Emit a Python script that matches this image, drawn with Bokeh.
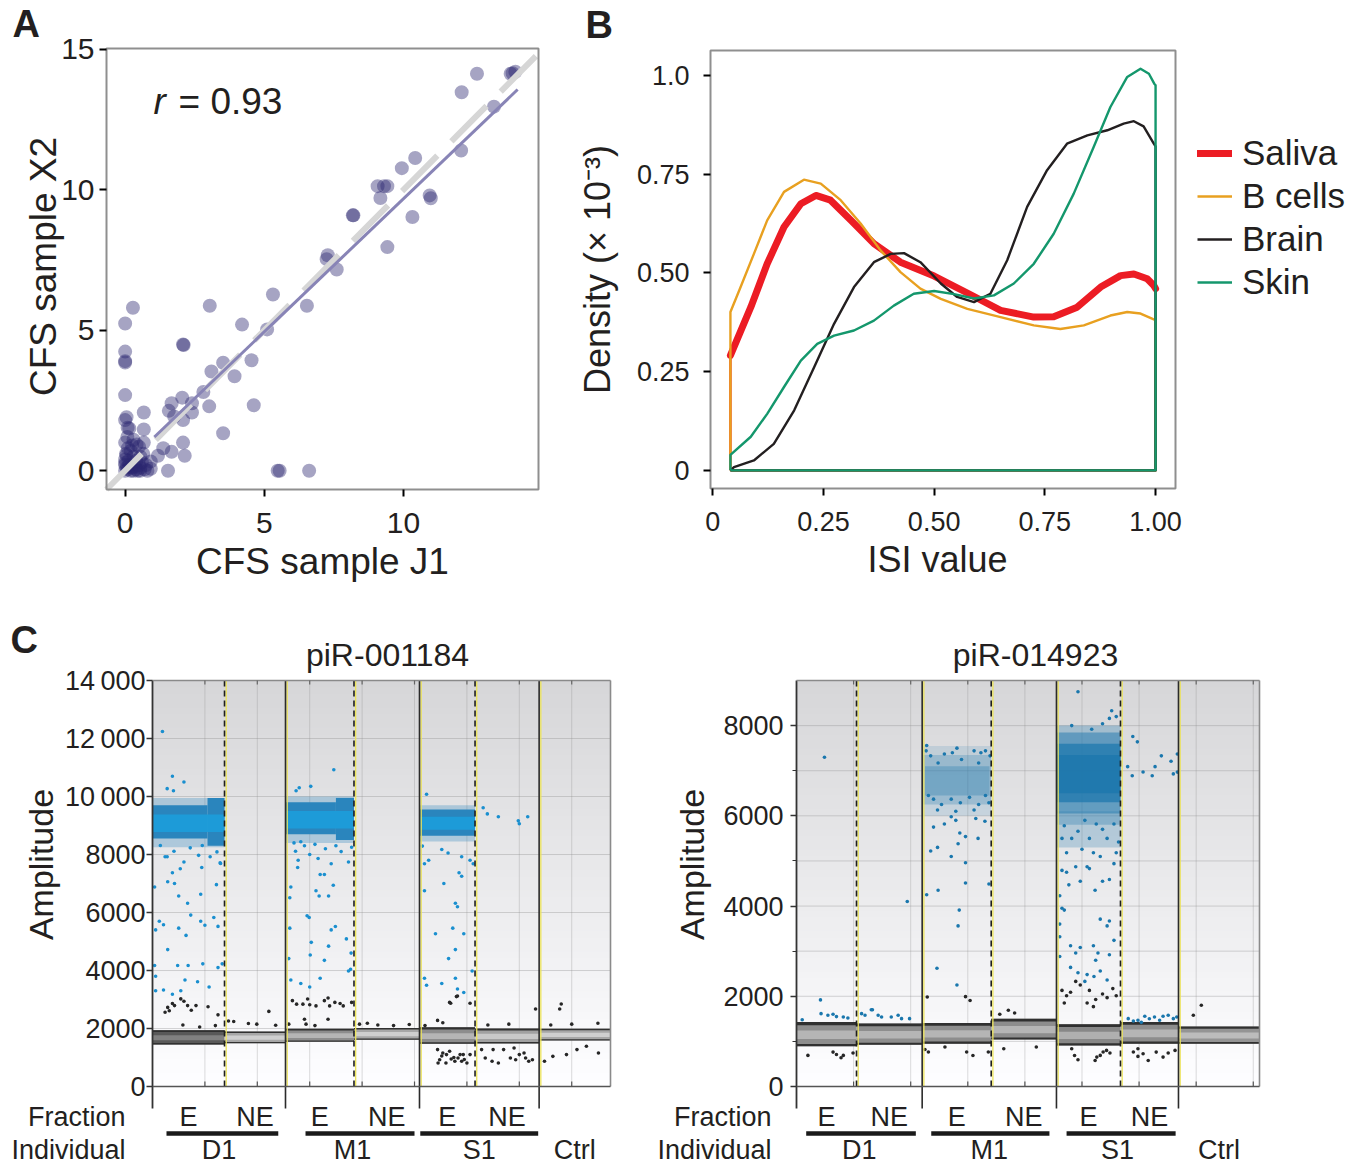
import numpy as np
from bokeh.plotting import figure
from bokeh.models import FixedTicker, Legend, LegendItem, LinearAxis
from bokeh.layouts import row, column
from bokeh.embed import file_html
from bokeh.resources import INLINE
from bokeh.core.properties import value

FONT = "Liberation Sans"
TXT = "#231f20"

# ---------------- Panel A : CFS sample J1 vs X2 ----------------
a_j1 = [0.28, 0.00, 0.00, 0.00, 0.00, 0.00, 0.00, 0.09, 0.67, 0.67,
        0.67, 0.41, 0.03, 0.00, 0.22, 0.54, 0.80, 0.92, 0.92, 1.18,
        1.37, 1.54, 1.67, 1.67, 1.57, 1.76, 2.08, 2.08, 2.14, 2.05,
        2.08, 2.10, 2.40, 2.40, 2.81, 3.02, 3.04, 3.10, 3.52, 3.52,
        3.93, 4.20, 4.54, 4.62, 5.10, 5.31, 5.48, 5.55, 6.61, 6.53,
        7.24, 7.28, 7.60, 8.18, 8.20, 9.07, 9.30, 9.42, 9.17, 9.42,
        9.94, 10.32, 10.42, 10.94, 10.98, 12.07, 12.09, 12.64, 13.25, 13.85,
        13.92, 14.02,
        0.00, 0.05, 0.10, 0.15, 0.20, 0.25, 0.30, 0.35, 0.40, 0.45,
        0.50, 0.55, 0.60, 0.70, 0.00, 0.05, 0.10, 0.00, 0.08, 0.20,
        0.30, 0.40, 0.25, 0.55, 0.65, 0.75, 0.15, 0.30, 0.05, 0.50,
        0.00, 0.12]
a_x2 = [5.80, 5.24, 4.24, 3.90, 3.85, 2.69, 1.80, 1.53, 2.07, 1.47,
        1.00, 0.93, 0.60, 0.27, 0.13, 0.00, 0.00, 0.07, 0.33, 0.53,
        0.80, 0.00, 0.67, 2.40, 2.13, 1.93, 1.80, 1.00, 0.53, 2.60,
        4.49, 4.47, 2.40, 2.07, 2.80, 2.29, 5.87, 3.53, 3.84, 1.33,
        3.36, 5.20, 3.93, 2.33, 5.03, 6.27, 0.00, 0.00, 0.00, 5.87,
        7.53, 7.67, 7.16, 9.09, 9.09, 10.13, 10.13, 10.13, 9.71, 7.96,
        10.77, 9.03, 11.13, 9.80, 9.70, 11.40, 13.47, 14.13, 12.96, 14.13,
        14.15, 14.20,
        0.00, 0.10, 0.05, 0.20, 0.00, 0.10, 0.00, 0.15, 0.05, 0.00,
        0.20, 0.10, 0.30, 0.05, 0.40, 0.55, 0.80, 1.00, 1.20, 0.70,
        0.50, 0.35, 0.90, 0.50, 0.60, 0.20, 1.50, 1.10, 1.90, 0.85,
        0.20, 0.35]
fit_j1 = [1.05, 14.10]
fit_x2 = [1.20, 13.57]
a_xlim = [-0.67, 14.85]
a_ylim = [-0.67, 15.03]
a_ticks_x = [0, 5, 10]
a_ticks_y = [0, 5, 10, 15]
r_value = "0.93"

# ---------------- Panel B : ISI density ----------------
sal_x = [0.04, 0.086, 0.123, 0.161, 0.199, 0.233, 0.266, 0.312, 0.364, 0.424, 0.50,
         0.575, 0.65, 0.725, 0.77, 0.823, 0.876, 0.921, 0.951, 0.981, 0.996, 1.0]
sal_d = [0.291, 0.413, 0.523, 0.616, 0.675, 0.696, 0.684, 0.633, 0.574, 0.527, 0.492,
         0.449, 0.405, 0.388, 0.389, 0.413, 0.464, 0.493, 0.497, 0.485, 0.468, 0.46]
bc_x = [0.04, 0.063, 0.093, 0.123, 0.161, 0.206, 0.244, 0.289, 0.334, 0.379, 0.424, 0.469,
        0.515, 0.575, 0.65, 0.725, 0.785, 0.838, 0.898, 0.936, 0.966, 0.992, 1.0]
bc_d = [0.401, 0.464, 0.548, 0.633, 0.705, 0.736, 0.726, 0.684, 0.625, 0.557, 0.502, 0.46,
        0.434, 0.409, 0.388, 0.367, 0.358, 0.367, 0.392, 0.401, 0.397, 0.384, 0.38]
br_x = [0.04, 0.048, 0.093, 0.138, 0.184, 0.229, 0.274, 0.319, 0.364, 0.402, 0.432, 0.469,
        0.515, 0.552, 0.590, 0.627, 0.665, 0.710, 0.755, 0.80, 0.846, 0.891, 0.928, 0.951,
        0.973, 0.996, 1.0]
br_d = [0.0, 0.008, 0.025, 0.067, 0.152, 0.261, 0.371, 0.464, 0.527, 0.548, 0.550, 0.527,
        0.473, 0.439, 0.426, 0.447, 0.532, 0.667, 0.76, 0.827, 0.848, 0.861, 0.878, 0.884,
        0.871, 0.827, 0.82]
sk_x = [0.04, 0.086, 0.123, 0.161, 0.199, 0.236, 0.274, 0.319, 0.364, 0.409, 0.454, 0.50,
        0.545, 0.59, 0.635, 0.68, 0.725, 0.77, 0.815, 0.86, 0.898, 0.936, 0.966, 0.985,
        0.997, 1.0]
sk_d = [0.039, 0.085, 0.143, 0.211, 0.278, 0.32, 0.341, 0.354, 0.379, 0.417, 0.447, 0.454,
        0.446, 0.435, 0.443, 0.473, 0.523, 0.599, 0.70, 0.818, 0.92, 0.996, 1.017, 1.004,
        0.979, 0.975]
b_names = ["Saliva", "B cells", "Brain", "Skin"]
b_colors = ["#ec1c24", "#e8a020", "#231f20", "#14976c"]
b_xlim = [-0.005, 1.045]
b_ylim = [-0.046, 1.063]
b_ticks = [0, 0.25, 0.5, 0.75, 1.0]
b_xlabels = {0: "0", 0.25: "0.25", 0.5: "0.50", 0.75: "0.75", 1.0: "1.00"}
b_ylabels = {0: "0", 0.25: "0.25", 0.5: "0.50", 0.75: "0.75", 1.0: "1.0"}

# ---------------- Panel C : droplet amplitudes ----------------
c_wells = ["E", "NE", "E", "NE", "E", "NE", ""]
c_indiv = ["D1", "D1", "M1", "M1", "S1", "S1", "Ctrl"]

c1_edges = [0, 1.374, 2.538, 3.845, 5.095, 6.155, 7.378, 8.74]
c1_neg_lo = [1450, 1490, 1540, 1610, 1470, 1480, 1590]
c1_neg_hi = [1940, 1900, 1990, 2020, 2040, 2000, 1990]
c1_neg_shade = [0.85, 0.25, 0.45, 0.25, 0.45, 0.3, 0.25]
c1_cl_x0 = [0.0, 2.538, 5.095, 0.0, 1.05, 2.538, 3.50, 5.095, 0.0, 2.538, 5.095]
c1_cl_x1 = [1.374, 3.845, 6.155, 1.05, 1.374, 3.50, 3.845, 6.155, 1.374, 3.845, 6.155]
c1_cl_lo = [8250, 8400, 8450, 8550, 8300, 8700, 8500, 8650, 8780, 8900, 8850]
c1_cl_hi = [9950, 10000, 9700, 9700, 9950, 9800, 9950, 9550, 9380, 9500, 9300]
c1_cl_color = ["#2a85bd"] * 8 + ["#1c9cd9"] * 3
c1_cl_alpha = [0.3] * 3 + [1.0] * 5 + [0.95] * 3
c1_blue_x = [0.19, 0.38, 0.60, 0.28, 0.40, 0.24, 0.38, 0.94, 1.29, 1.22,
             0.04, 0.29, 0.42, 0.50, 0.67, 0.92, 0.73, 0.92, 1.00, 1.17,
             1.25, 0.13, 0.21, 0.06, 0.50, 0.64, 0.29, 0.96, 0.48, 0.68,
             0.04, 0.06, 0.62, 1.08, 1.25, 1.33, 0.21, 0.38, 0.54, 0.86,
             0.06, 0.15, 0.41, 0.72, 0.95, 0.28, 0.60, 0.88, 1.10, 1.23,
             1.30, 0.53,
             3.46, 2.74, 2.80, 3.02, 2.83, 2.73, 2.78, 2.77, 3.20, 3.28,
             3.41, 3.16, 3.74, 3.45, 3.36, 3.18, 3.12, 2.64, 2.62, 2.95,
             2.99, 3.49, 3.41, 2.62, 3.03, 3.70, 3.79, 3.36, 3.01, 3.28,
             3.78, 2.64, 3.20, 2.83, 3.00, 3.74, 2.60, 2.70, 2.90, 3.10,
             3.30, 3.50, 3.60, 3.80, 3.00,
             5.23, 6.31, 6.39, 6.60, 7.00, 7.16, 6.98, 5.15, 5.27, 5.52,
             5.64, 5.90, 6.06, 6.12, 5.19, 5.85, 5.90, 5.19, 5.56, 5.78,
             5.82, 5.40, 5.73, 5.94, 5.78, 5.65, 5.78, 5.82, 5.94, 5.23,
             5.52, 6.10, 5.19]
c1_blue_y = [12240, 10700, 10500, 10270, 10200, 7920, 7370, 7550, 7710, 6960,
             6880, 7060, 7000, 6570, 6320, 6630, 5910, 5700, 5560, 5830,
             5520, 5700, 5580, 5400, 5460, 5210, 4720, 4230, 4170, 4170,
             4170, 3800, 3670, 3430, 4100, 4230, 3330, 3180, 3300, 3610,
             3300, 8310, 8110, 8230, 8310, 7920, 7740, 7970, 7920, 8090,
             7690, 7510,
             10920, 10200, 10300, 10350, 8440, 8110, 7800, 7550, 7310, 7310,
             7680, 7860, 7740, 6940, 6570, 6570, 6750, 6880, 6510, 5890,
             5830, 5520, 5400, 5460, 4970, 5090, 4600, 4840, 4535, 4350,
             4040, 3670, 3730, 3550, 3430, 3980, 4410, 8400, 8300, 8350,
             8200, 8300, 8100, 8250, 8000,
             10080, 9610, 9400, 9300, 9060, 9300, 9160, 8290, 7800, 8170,
             8050, 7920, 7800, 7680, 7680, 7370, 7250, 6750, 7000, 6320,
             6200, 5270, 5460, 5270, 4720, 4410, 3730, 3360, 3240, 3490,
             3550, 3980, 3730]
c1_black_x = [0.29, 0.38, 0.54, 0.60, 0.42, 0.67, 0.74, 0.83, 1.06, 1.25,
              0.32, 0.24, 0.58, 0.90, 1.20,
              2.22, 1.45, 1.55, 1.83, 1.99, 2.35,
              2.67, 2.75, 2.87, 2.96, 3.00, 3.12, 3.28, 3.35, 3.38, 3.48,
              3.58, 3.64, 3.80, 2.90, 2.93, 3.35, 2.60, 3.10,
              3.95, 4.30, 4.60, 4.90, 4.10,
              5.67, 5.80, 5.44, 5.54, 5.82, 5.69, 6.06, 5.20, 7.31, 6.40, 6.80,
              5.44, 5.54, 5.61, 5.48, 5.45, 5.60, 5.77, 5.83, 5.93, 5.90,
              6.00, 5.87, 6.06, 6.35, 6.48, 6.60, 6.70, 6.83, 6.93, 7.00,
              7.12, 7.18, 7.25, 7.09, 6.90, 6.50, 6.28, 5.67, 5.70, 5.75,
              5.95, 5.52,
              7.48, 7.64, 7.90, 8.10, 8.28, 8.51, 7.80, 7.77, 8.00, 8.50, 7.60]
c1_black_y = [2727, 2860, 3020, 2940, 2790, 2790, 2630, 2790, 2750, 2470,
              2610, 2560, 2120, 2050, 2100,
              2590, 2260, 2240, 2170, 2150, 2110,
              2960, 2840, 2840, 3020, 2820, 2780, 2960, 3050, 2780, 2900,
              2860, 2780, 2900, 2320, 2150, 2320, 2150, 2100,
              2150, 2120, 2100, 2140, 2180,
              2900, 3100, 2280, 2200, 3120, 2870, 2870, 2100, 2670, 2120, 2150,
              1272, 1156, 1100, 925, 810, 810, 870, 985, 1100, 870,
              810, 1100, 1100, 985, 870, 810, 1272, 985, 925, 1100,
              985, 870, 925, 1156, 1330, 1272, 1272, 1215, 950, 1000,
              930, 1050,
              870, 1040, 1100, 1272, 1390, 1156, 2845, 2670, 2150, 2180, 2120]
c1_bar_x0 = [0.267, 2.92, 5.11]
c1_bar_x1 = [2.40, 5.00, 7.36]

c2_edges = [0, 1.051, 2.201, 3.410, 4.553, 5.674, 6.690, 8.109]
c2_neg_lo = [890, 925, 950, 1040, 910, 950, 950]
c2_neg_hi = [1430, 1395, 1405, 1500, 1380, 1430, 1330]
c2_neg_shade = [0.45, 0.45, 0.45, 0.45, 0.5, 0.45, 0.4]
c2_cl_x0 = [2.201, 2.201, 2.25, 4.553, 4.553, 4.553, 4.553, 4.553]
c2_cl_x1 = [3.410, 3.410, 3.38, 5.674, 5.674, 5.674, 5.674, 5.674]
c2_cl_lo = [6000, 6250, 6450, 5300, 5800, 6050, 6300, 6500]
c2_cl_hi = [7550, 7350, 7100, 6100, 8000, 7850, 7600, 7350]
c2_cl_color = ["#1f78ad"] * 8
c2_cl_alpha = [0.15, 0.25, 0.3, 0.25, 0.3, 0.5, 0.75, 0.9]
c2_blue_x = [0.43, 0.55, 0.64, 0.70, 0.82, 0.90, 1.14, 1.20, 1.33, 1.43,
             1.49, 1.66, 1.78, 1.84, 1.98, 0.42, 0.49, 1.94, 1.31, 0.10,
             2.28, 2.27, 2.46, 2.81, 2.83, 2.85, 2.48, 2.28, 2.96, 2.96,
             3.37, 2.35, 2.47, 2.71, 2.83, 2.86, 3.18, 3.30, 2.59, 2.79,
             2.96, 2.40, 2.71, 3.14,
             2.35, 2.48, 2.59, 2.81, 3.11, 3.23, 3.31, 3.19, 3.39, 2.89,
             2.73, 2.31, 2.40, 2.54, 2.71, 2.87, 3.03, 3.19, 3.31, 3.37,
             2.47, 2.79, 3.11,
             4.93, 5.52, 5.48, 5.60, 5.36, 4.82, 5.17, 5.89, 5.97, 5.80,
             5.88, 6.07, 6.23, 6.39, 6.28, 6.56, 6.60, 6.67, 6.67,
             4.65, 4.73, 4.77, 4.89, 4.97, 5.09, 5.13, 5.23, 5.36, 5.48,
             5.56, 4.61, 4.65, 4.69, 4.61, 5.32, 5.44, 5.48, 5.56, 4.61,
             4.80, 4.89, 4.97, 5.20, 5.28, 5.24, 5.48, 4.61, 4.80, 4.93,
             5.09, 5.21, 5.05, 5.44, 5.32,
             4.69, 4.82, 4.93, 5.05, 5.13, 5.25, 5.36, 5.44, 5.56, 5.64,
             4.73, 5.00, 5.20, 5.32, 5.60, 4.65,
             5.81, 5.90, 5.98, 6.10, 6.18, 6.27, 6.36, 6.42, 6.51, 6.60,
             6.66, 6.04]
c2_blue_y = [1615, 1578, 1600, 1550, 1540, 1520, 1615, 1578, 1703, 1578,
             1540, 1541, 1578, 1504, 1504, 1920, 7300, 4100, 1700, 1480,
             7560, 7440, 2620, 2250, 3560, 3910, 4350, 4250, 4510, 4960,
             4490, 5220, 5300, 5100, 5380, 5620, 5500, 5880, 5820, 5900,
             5540, 5750, 5980, 5940,
             7330, 7170, 7370, 7500, 7440, 7400, 7440, 7170, 7330, 7250,
             7400, 6450, 6370, 6250, 6370, 6290, 6410, 6250, 6450, 6290,
             6130, 6100, 6130,
             8750, 8330, 8160, 8200, 8040, 8000, 7920, 7760, 7640, 7090,
             6890, 6970, 6890, 7330, 7090, 7210, 6930, 7370, 6970,
             4790, 4750, 4470, 4870, 4550, 4870, 4830, 4350, 4550, 4590,
             4940, 4230, 3950, 3910, 3600, 3710, 3560, 3670, 3240, 3320,
             3120, 2960, 3080, 3120, 2960, 2800, 2920, 2880, 2640, 2520,
             2480, 2440, 2330, 2360, 2560,
             5780, 5500, 5660, 5900, 5500, 5820, 5700, 5500, 5820, 5420,
             5180, 5260, 5180, 5100, 5180, 5500,
             1504, 1452, 1467, 1556, 1500, 1541, 1467, 1556, 1578, 1504,
             1541, 1422]
c2_black_x = [0.20, 0.64, 0.70, 0.78, 0.82, 0.99, 2.31, 2.60, 2.98, 3.09,
              3.36, 3.56, 3.71, 3.82, 2.29, 2.96, 3.04, 3.63, 4.20, 2.25,
              4.87, 4.93, 5.23, 5.26, 5.32, 5.37, 5.49, 5.43, 4.82, 5.90,
              5.98, 6.07, 6.16, 6.30, 6.42, 6.51, 6.63, 5.98,
              4.65, 4.73, 4.80, 4.89, 4.97, 5.13, 5.24, 5.36, 5.44, 5.54,
              5.60, 5.20, 5.09, 4.69, 6.95, 7.09]
c2_black_y = [689, 763, 711, 637, 689, 741, 763, 874, 763, 689,
              763, 1600, 1690, 1630, 1984, 1992, 1905, 837, 874, 820,
              689, 593, 578, 652, 689, 763, 741, 800, 837, 763,
              667, 726, 578, 763, 652, 741, 800, 837,
              2130, 2010, 2090, 2330, 2250, 2130, 1930, 2050, 1970, 2170,
              2010, 1770, 1850, 1850, 1578, 1800]
c2_bar_x0 = [0.17, 2.36, 4.73]
c2_bar_x1 = [2.09, 4.43, 6.64]

for a, b in [(a_j1, a_x2), (sal_x, sal_d), (bc_x, bc_d), (br_x, br_d), (sk_x, sk_d),
             (c1_blue_x, c1_blue_y), (c1_black_x, c1_black_y),
             (c2_blue_x, c2_blue_y), (c2_black_x, c2_black_y)]:
    assert len(a) == len(b), (len(a), len(b))


class Canvas:
    """A figure whose frame fills the whole canvas; the data box sits at a pixel box."""

    def __init__(self, W, H, box, xlim, ylim):
        fl, fr, ft, fb = box
        self.xpp = (xlim[1] - xlim[0]) / (fr - fl)
        self.ypp = (ylim[1] - ylim[0]) / (fb - ft)
        self.x0 = xlim[0] - fl * self.xpp
        self.y1 = ylim[1] + ft * self.ypp
        xr = (self.x0, xlim[1] + (W - fr) * self.xpp)
        yr = (ylim[0] - (H - fb) * self.ypp, self.y1)
        self.p = figure(width=W, height=H, x_range=xr, y_range=yr,
                        x_axis_location=None, y_axis_location=None,
                        min_border=0, min_border_left=0, min_border_right=0,
                        min_border_top=0, min_border_bottom=0,
                        output_backend="svg", toolbar_location=None)
        self.p.grid.visible = False
        self.p.outline_line_color = None
        self.xlim, self.ylim = xlim, ylim

    def X(self, px):
        return self.x0 + px * self.xpp

    def Y(self, py):
        return self.y1 - py * self.ypp

    def axis(self, side, ticks, size, label_center_px, tick_w=2, tick_out=7, minor=None):
        if side == "below":
            c = self.X(label_center_px)
            bounds = (self.xlim[0], 2 * c - self.xlim[0])
            loc = self.ylim[0]
        else:
            c = self.Y(label_center_px)
            bounds = (self.ylim[0], 2 * c - self.ylim[0])
            loc = self.xlim[0]
        ax = LinearAxis(fixed_location=loc, bounds=bounds)
        ax.ticker = FixedTicker(ticks=ticks, minor_ticks=minor or [])
        ax.axis_line_color = None
        ax.major_tick_line_color = "black"
        ax.major_tick_line_width = tick_w
        ax.major_tick_out = tick_out
        ax.major_tick_in = 0
        if minor:
            ax.minor_tick_line_color = "#333333"
            ax.minor_tick_out = 4
            ax.minor_tick_in = 0
        else:
            ax.minor_tick_line_color = None
        ax.major_label_text_font = FONT
        ax.major_label_text_font_size = size
        ax.major_label_text_color = TXT
        ax.axis_label_text_font = FONT
        ax.axis_label_text_font_style = "normal"
        ax.axis_label_text_color = TXT
        self.p.add_layout(ax, side)
        return ax

    def text(self, px, py, txt, size, align="left", baseline="middle", style="normal"):
        self.p.text(x=[self.X(px)], y=[self.Y(py)], text=[txt], text_font=value(FONT),
                    text_font_size=size, text_align=align, text_baseline=baseline,
                    text_font_style=style, text_color=TXT)

    def box(self, color, width):
        self.p.quad(left=self.xlim[0], right=self.xlim[1], bottom=self.ylim[0],
                    top=self.ylim[1], fill_alpha=0, line_color=color, line_width=width)


# ================= Panel A =================
A = Canvas(568, 598, (106, 538, 48, 489), a_xlim, a_ylim)
pA = A.p
axx = A.axis("below", a_ticks_x, "30px", 322)
axy = A.axis("left", a_ticks_y, "30px", 266)
axx.major_label_standoff = 16
axy.major_label_standoff = 5
axx.axis_label = "CFS sample J1"
axy.axis_label = "CFS sample X2"
axx.axis_label_text_font_size = "37px"
axy.axis_label_text_font_size = "37px"
axx.axis_label_standoff = 5
axy.axis_label_standoff = -6
pA.scatter(a_j1, a_x2, size=14, fill_color="#2b2770", fill_alpha=0.42, line_color=None)
pA.line([a_xlim[0], a_xlim[1]], [a_xlim[0], a_xlim[1]], line_color="#d6d6d6",
        line_width=6, line_dash="50 20")
pA.line(fit_j1, fit_x2, line_color="#8884b6", line_width=3)
A.box("#8f8f8f", 2)
A.text(153, 101, "r", "37px", style="italic")
A.text(178, 101, "= " + r_value, "37px")
A.text(12, 23, "A", "38px", style="bold")

# ================= Panel B =================
Bc = Canvas(793, 598, (142, 607, 50, 488), b_xlim, b_ylim)
pB = Bc.p
bx_ax = Bc.axis("below", b_ticks, "27px", 369)
by_ax = Bc.axis("left", b_ticks, "27px", 269)
bx_ax.major_label_overrides = b_xlabels
by_ax.major_label_overrides = b_ylabels
bx_ax.major_label_standoff = 16
by_ax.major_label_standoff = 14
bx_ax.axis_label = "ISI value"
by_ax.axis_label = "Density (\u00d7 10\u207b\u00b3)"
bx_ax.axis_label_text_font_size = "36px"
by_ax.axis_label_text_font_size = "36px"
bx_ax.axis_label_standoff = 5
by_ax.axis_label_standoff = 16
Bc.box("#8f8f8f", 2)

items = []
series = [(sal_x, sal_d), (bc_x, bc_d), (br_x, br_d), (sk_x, sk_d)]
for k, (xs, ds) in enumerate(series):
    col = b_colors[k]
    ox = [xs[0]] + list(xs) + [xs[-1], xs[0]]
    oy = [0] + list(ds) + [0, 0]
    r_out = pB.line(ox, oy, line_color=col, line_width=2.4, line_join="round")
    if k == 0:
        r_main = pB.line(xs, ds, line_color=col, line_width=7, line_join="round", line_cap="round")
    else:
        r_main = r_out
    items.append(LegendItem(label=b_names[k], renderers=[r_main]))
leg = Legend(items=items, location=(629, 296), orientation="vertical",
             label_text_font=FONT, label_text_font_size="35px", label_text_color=TXT,
             glyph_width=35, glyph_height=40, label_height=40, label_standoff=10,
             spacing=3, padding=0, margin=0, border_line_color=None,
             background_fill_alpha=0)
pB.add_layout(leg, "center")
Bc.text(17, 24, "B", "38px", style="bold")


# ================= Panel C =================
def c_panel(W, box_lr, edges, ymax, major, minor, overrides, gridstep,
            neg_lo, neg_hi, neg_shade, cl_x0, cl_x1, cl_lo, cl_hi, cl_color, cl_alpha,
            bx, by, kx, ky, blue, bar_x0, bar_x1, title, title_cx, lab_rx,
            tl_standoff, al_standoff, letter=None):
    H = 571
    xmax = edges[-1]
    C = Canvas(W, H, (box_lr[0], box_lr[1], 82, 488), [0, xmax], [0, ymax])
    p = C.p
    upp, xpp = C.ypp, C.xpp
    ax = C.axis("left", major, "27px", 266, tick_w=1.5, tick_out=6, minor=minor)
    ax.major_tick_line_color = "#333333"
    ax.major_label_overrides = overrides
    ax.major_label_standoff = tl_standoff
    ax.axis_label = "Amplitude"
    ax.axis_label_text_font_size = "34px"
    ax.axis_label_standoff = al_standoff

    # background gradient (grey at top fading to white), overlapping bands
    nb = 60
    yb = np.linspace(0, ymax, nb + 1)
    step = yb[1] - yb[0]
    cols = []
    for i in range(nb):
        t = 0.5 * (yb[i] + yb[i + 1]) / ymax
        v = int(round(254 - t * (254 - 214)))
        cols.append("#%02x%02x%02x" % (v, v, min(255, v + 2)))
    tops = np.minimum(yb[1:] + 0.6 * step, ymax)
    p.quad(left=0, right=xmax, bottom=yb[:-1], top=tops, fill_color=cols,
           line_color=None)

    # grid lines
    gy = np.arange(gridstep, ymax, gridstep)
    p.segment(x0=0, x1=xmax, y0=gy, y1=gy, line_color="#8c8c8c", line_alpha=0.35, line_width=1)
    gx = np.arange(1, int(np.floor(xmax)) + 1)
    gx = gx[gx < xmax]
    p.segment(x0=gx, x1=gx, y0=0, y1=ymax, line_color="#8c8c8c", line_alpha=0.3, line_width=1)

    # negative droplet bands
    L, R, B, T, F = [], [], [], [], []
    for i in range(len(neg_lo)):
        lo, hi = neg_lo[i], neg_hi[i]
        h = hi - lo
        s = neg_shade[i]
        body = int(200 - s * 130)
        core = min(235, body + 40)
        x0, x1 = edges[i], edges[i + 1]
        for (b0, b1, g) in [(lo, hi, body), (lo + 0.3 * h, hi - 0.35 * h, core),
                            (hi - 0.13 * h, hi, 48), (lo, lo + 0.1 * h, 48)]:
            L.append(x0); R.append(x1); B.append(b0); T.append(b1)
            F.append("#%02x%02x%02x" % (g, g, g))
    p.quad(left=L, right=R, bottom=B, top=T, fill_color=F, line_color=None)

    # positive droplet clusters
    p.quad(left=cl_x0, right=cl_x1, bottom=cl_lo, top=cl_hi, fill_color=cl_color,
           fill_alpha=cl_alpha, line_color=None)

    # individual droplets
    p.scatter(bx, by, size=3.6, fill_color=blue, line_color=None)
    p.scatter(kx, ky, size=3.6, fill_color="#262626", line_color=None)

    # well boundaries
    for i in range(1, len(edges) - 1):
        x = edges[i]
        same = c_indiv[i] == c_indiv[i - 1]
        p.segment(x0=[x + 1.7 * xpp], x1=[x + 1.7 * xpp], y0=[0], y1=[ymax],
                  line_color="#ece35a", line_width=1.3)
        if same:
            p.segment(x0=[x], x1=[x], y0=[0], y1=[ymax], line_color="#1e1e1e",
                      line_width=1.6, line_dash="6 4")
        else:
            p.segment(x0=[x], x1=[x], y0=[-22 * upp], y1=[ymax], line_color="#2b2b2b",
                      line_width=1.6)

    # frame
    p.segment(x0=[0], x1=[0], y0=[-22 * upp], y1=[ymax], line_color="#333333", line_width=1.8)
    p.segment(x0=[0], x1=[xmax], y0=[ymax], y1=[ymax], line_color="#8a8a8a", line_width=1.6)
    p.segment(x0=[xmax], x1=[xmax], y0=[0], y1=[ymax], line_color="#8a8a8a", line_width=1.6)
    p.segment(x0=[0], x1=[xmax], y0=[0], y1=[0], line_color="#555555", line_width=1.6)
    p.segment(x0=gx, x1=gx, y0=0, y1=5 * upp, line_color="#555555", line_width=1.2)
    p.segment(x0=gx, x1=gx, y0=ymax, y1=ymax - 4 * upp, line_color="#666666", line_width=1.2)

    # category annotation under the axis
    centers = [(edges[i] + edges[i + 1]) / 2 for i in range(len(edges) - 1)]
    fx = [centers[i] for i in range(len(c_wells)) if c_wells[i]]
    ft = [c_wells[i] for i in range(len(c_wells)) if c_wells[i]]
    p.text(x=fx, y=[-30 * upp] * len(fx), text=ft, text_font=value(FONT),
           text_font_size="27px", text_align="center", text_baseline="middle",
           text_color=TXT)
    names = []
    for nm in c_indiv:
        if nm not in names:
            names.append(nm)
    ix = []
    for nm in names:
        idx = [i for i in range(len(c_indiv)) if c_indiv[i] == nm]
        ix.append((edges[idx[0]] + edges[idx[-1] + 1]) / 2)
    p.text(x=ix, y=[-63 * upp] * len(ix), text=names, text_font=value(FONT),
           text_font_size="27px", text_align="center", text_baseline="middle",
           text_color=TXT)
    p.segment(x0=bar_x0, x1=bar_x1, y0=-47 * upp, y1=-47 * upp, line_color="#1a1a1a",
              line_width=4.5)

    C.text(lab_rx, 518, "Fraction", "27px", align="right")
    C.text(lab_rx, 551, "Individual", "27px", align="right")
    C.text(title_cx, 56, title, "32px", align="center")
    if letter:
        C.text(10, 41, letter, "38px", style="bold")
    return p


c1_over = {14000: "14\u2009000", 12000: "12\u2009000", 10000: "10\u2009000"}
pC1 = c_panel(650, (152, 610), c1_edges, 14000, list(range(0, 14001, 2000)), None,
              c1_over, 2000,
              c1_neg_lo, c1_neg_hi, c1_neg_shade, c1_cl_x0, c1_cl_x1, c1_cl_lo, c1_cl_hi,
              c1_cl_color, c1_cl_alpha, c1_blue_x, c1_blue_y, c1_black_x, c1_black_y,
              "#1a8fcf", c1_bar_x0, c1_bar_x1, "piR-001184", 387, 125, 1, 2, letter="C")
pC2 = c_panel(711, (146, 609), c2_edges, 9000, list(range(0, 8001, 2000)),
              [1000, 3000, 5000, 7000], {}, 1000,
              c2_neg_lo, c2_neg_hi, c2_neg_shade, c2_cl_x0, c2_cl_x1, c2_cl_lo, c2_cl_hi,
              c2_cl_color, c2_cl_alpha, c2_blue_x, c2_blue_y, c2_black_x, c2_black_y,
              "#1a77ad", c2_bar_x0, c2_bar_x1, "piR-014923", 385, 121, 7, 9)

layout = column(row(pA, pB), row(pC1, pC2))
open("out.html", "w").write(file_html(layout, INLINE))
